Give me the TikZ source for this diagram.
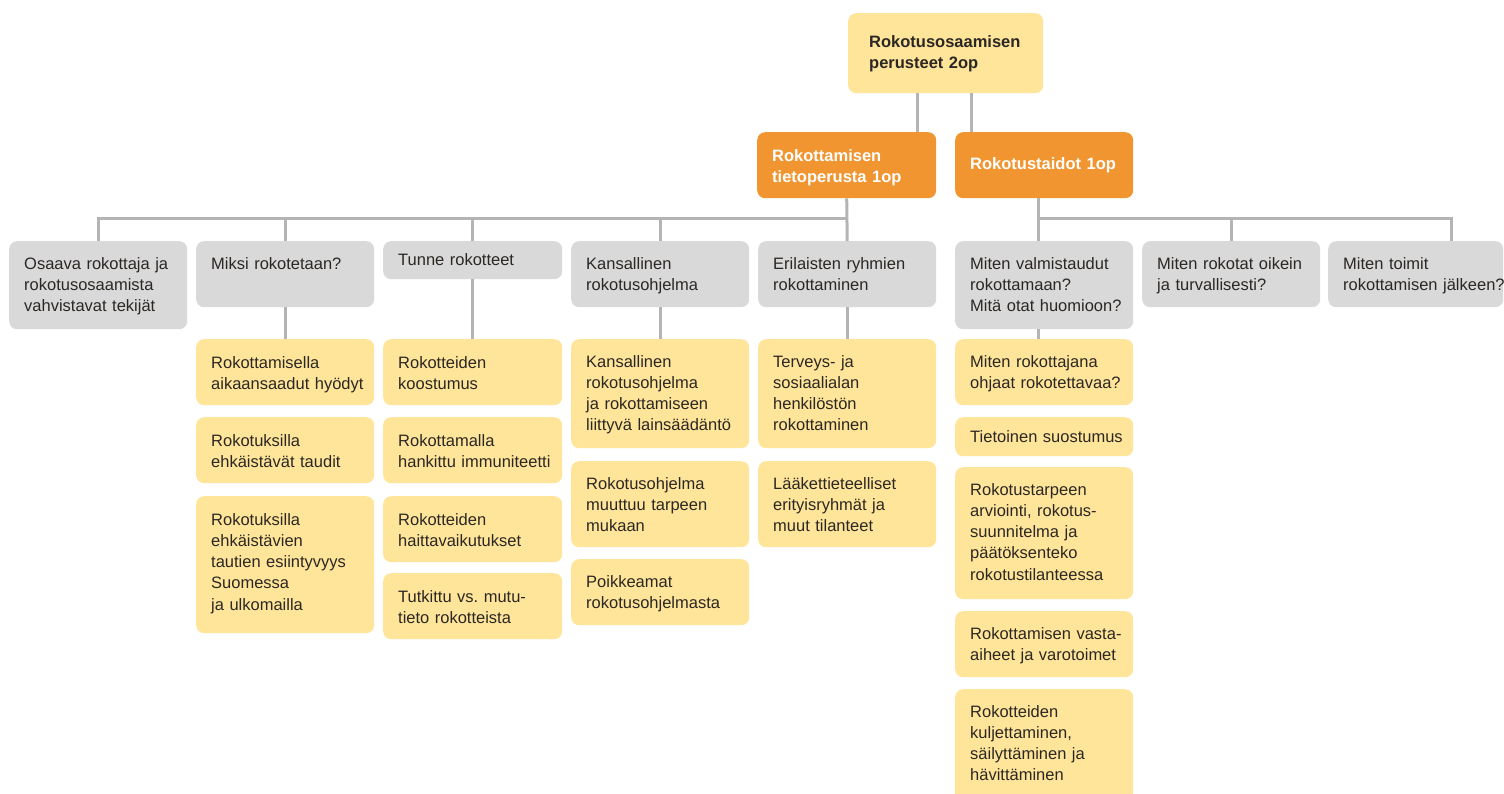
\documentclass[tikz,border=0pt]{standalone}
\usepackage{fontspec}
\setmainfont{Liberation Sans}
\frenchspacing
\definecolor{ylw}{HTML}{FFE599}
\definecolor{org}{HTML}{F09530}
\definecolor{gry}{HTML}{D9D9D9}
\definecolor{lnc}{HTML}{B4B4B4}
\definecolor{txc}{HTML}{2B2724}
\tikzset{
  boxbase/.style={rounded corners=8pt, inner sep=0pt, anchor=north west, draw=none},
  ybox/.style={boxbase, fill=ylw},
  gbox/.style={boxbase, fill=gry},
  obox/.style={boxbase, fill=org},
  txt/.style={anchor=base west, inner sep=0pt, text width=260pt, align=left,
    font=\fontsize{16.5}{21.3}\selectfont\frenchspacing, text=txc},
  btxt/.style={txt, font=\fontsize{16.5}{21.3}\selectfont\frenchspacing\bfseries},
  wtxt/.style={btxt, text=white},
  conn/.style={draw=lnc, line width=3pt}
}
\newcommand\mybox[9][txt]{%
  \node[#3, minimum width={(#6-#4)*1pt}, minimum height={(#7-#5)*1pt}] (#2) at (#4,#5) {};
  \node[#1] (#2t) at ([xshift=15pt,yshift=-#8pt]#2.north west) {#9};}
\begin{document}
\begin{tikzpicture}[x=1pt,y=-1pt]
\useasboundingbox[fill=white] (0,0) rectangle (1504,793);
% top levels
\node[ybox, minimum width=195pt, minimum height=80pt] (r) at (848,13) {};
\node[btxt] (rt) at ([xshift=21pt,yshift=-34.5pt]r.north west) {Rokotusosaamisen\\perusteet 2op};
\mybox[wtxt]{A}{obox}{757}{132}{936}{198}{29.5}{Rokottamisen\\tietoperusta 1op}
\mybox[wtxt]{B}{obox}{955}{132}{1133}{198}{37}{Rokotustaidot 1op}
% gray row
\mybox{g1}{gbox}{9}{241}{187}{329}{28}{Osaava rokottaja ja\\rokotusosaamista\\vahvistavat tekijät}
\mybox{g2}{gbox}{196}{241}{374}{307}{28}{Miksi rokotetaan?}
\mybox{g3}{gbox}{383}{241}{562}{279}{24.5}{Tunne rokotteet}
\mybox{g4}{gbox}{571}{241}{749}{307}{28}{Kansallinen\\rokotusohjelma}
\mybox{g5}{gbox}{758}{241}{936}{307}{28}{Erilaisten ryhmien\\rokottaminen}
\mybox{g6}{gbox}{955}{241}{1133}{329}{28}{Miten valmistaudut\\rokottamaan?\\Mitä otat huomioon?}
\mybox{g7}{gbox}{1142}{241}{1320}{307}{28}{Miten rokotat oikein\\ja turvallisesti?}
\mybox{g8}{gbox}{1328}{241}{1503}{307}{28}{Miten toimit\\rokottamisen jälkeen?}
% column 2
\mybox{y21}{ybox}{196}{339}{374}{405}{29}{Rokottamisella\\aikaansaadut hyödyt}
\mybox{y22}{ybox}{196}{417}{374}{483}{29}{Rokotuksilla\\ehkäistävät taudit}
\mybox{y23}{ybox}{196}{496}{374}{633}{29}{Rokotuksilla\\ehkäistävien\\tautien esiintyvyys\\Suomessa\\ja ulkomailla}
% column 3
\mybox{y31}{ybox}{383}{339}{562}{405}{29}{Rokotteiden\\koostumus}
\mybox{y32}{ybox}{383}{417}{562}{483}{29}{Rokottamalla\\hankittu immuniteetti}
\mybox{y33}{ybox}{383}{496}{562}{562}{29}{Rokotteiden\\haittavaikutukset}
\mybox{y34}{ybox}{383}{573}{562}{639}{29}{Tutkittu vs. mutu-\\tieto rokotteista}
% column 4
\mybox{y41}{ybox}{571}{339}{749}{448}{28}{Kansallinen\\rokotusohjelma\\ja rokottamiseen\\liittyvä lainsäädäntö}
\mybox{y42}{ybox}{571}{461}{749}{547}{28}{Rokotusohjelma\\muuttuu tarpeen\\mukaan}
\mybox{y43}{ybox}{571}{559}{749}{625}{28}{Poikkeamat\\rokotusohjelmasta}
% column 5
\mybox{y51}{ybox}{758}{339}{936}{448}{28}{Terveys- ja\\sosiaalialan\\henkilöstön\\rokottaminen}
\mybox{y52}{ybox}{758}{461}{936}{547}{28}{Lääkettieteelliset\\erityisryhmät ja\\muut tilanteet}
% column 6
\mybox{y61}{ybox}{955}{339}{1133}{405}{28}{Miten rokottajana\\ohjaat rokotettavaa?}
\mybox{y62}{ybox}{955}{417}{1133}{456}{25}{Tietoinen suostumus}
\mybox{y63}{ybox}{955}{467}{1133}{599}{28}{Rokotustarpeen\\arviointi, rokotus-\\suunnitelma ja\\päätöksenteko\\rokotustilanteessa}
\mybox{y64}{ybox}{955}{611}{1133}{677}{28}{Rokottamisen vasta-\\aiheet ja varotoimet}
\mybox{y65}{ybox}{955}{689}{1133}{805}{28}{Rokotteiden\\kuljettaminen,\\säilyttäminen ja\\hävittäminen}
% connectors
\coordinate (busA) at (847,218);
\coordinate (busB) at (1038,218);
\draw[conn] ([xshift=-28.5pt]r.south) -- ([xshift=-28.5pt]r.south |- A.north);
\draw[conn] ([xshift=25.5pt]r.south) -- ([xshift=25.5pt]r.south |- B.north);
\draw[conn] (A.south) -- (g5.north);
\draw[conn] (g1.north) |- (busA);
\draw[conn] (g2.north) -- (g2.north |- busA);
\draw[conn] (g3.north) -- (g3.north |- busA);
\draw[conn] (g4.north) -- (g4.north |- busA);
\draw[conn] (B.south -| busB) -- (g6.north -| busB);
\draw[conn] (busB) -| ([xshift=35.5pt]g8.north);
\draw[conn] (g7.north) -- (g7.north |- busB);
\draw[conn] (g2.south) -- (y21.north);
\draw[conn] (g3.south) -- (y31.north);
\draw[conn] (g4.south) -- (y41.north);
\draw[conn] (g5.south) -- (y51.north);
\draw[conn] (g6.south -| busB) -- (y61.north -| busB);
\end{tikzpicture}
\end{document}
